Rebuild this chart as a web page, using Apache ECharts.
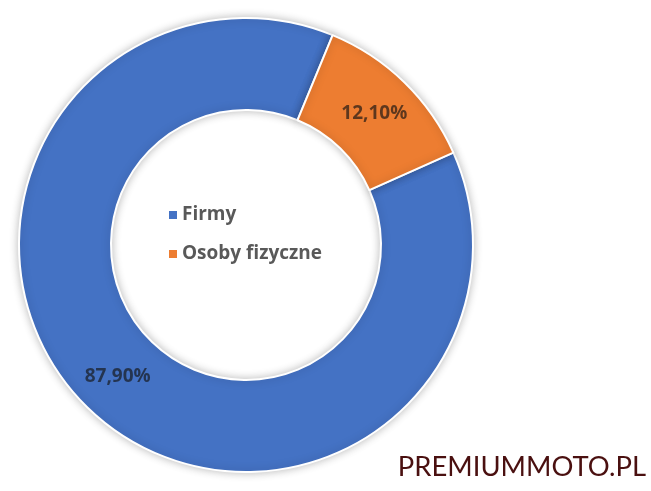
<!DOCTYPE html>
<html>
<head>
<meta charset="utf-8">
<script src="https://cdn.jsdelivr.net/npm/echarts@6/dist/echarts.min.js"></script>
<style>
  html, body { margin: 0; padding: 0; background: #ffffff; }
  #chart { width: 651px; height: 491px; }
</style>
</head>
<body>
<div id="chart"></div>
<script>
const categories = ['Firmy', 'Osoby fizyczne'];
const values = [87.9, 12.1];
const colors = ['#4472C4', '#ED7D31'];
const watermark = 'PREMIUMMOTO.PL';

const chart = echarts.init(document.getElementById('chart'), null, { renderer: 'canvas' });

const fmt = v => v.toFixed(2).replace('.', ',') + '%';

chart.setOption({
  animation: false,
  backgroundColor: '#ffffff',
  color: colors,
  legend: {
    orient: 'vertical',
    left: 162,
    top: 200,
    icon: 'rect',
    itemWidth: 10,
    itemHeight: 10,
    itemGap: 19,
    data: categories,
    textStyle: {
      fontFamily: 'Open Sans',
      fontWeight: 'bold',
      fontSize: 19,
      lineHeight: 20,
      color: '#595959',
      padding: [0, 0, 0, -1]
    }
  },
  series: [{
    type: 'pie',
    center: [246, 245],
    radius: [135, 227],
    startAngle: 24,
    clockwise: true,
    avoidLabelOverlap: false,
    itemStyle: {
      borderColor: '#ffffff',
      borderWidth: 2,
      shadowBlur: 8,
      shadowColor: 'rgba(0,0,0,0.25)'
    },
    label: {
      show: true,
      position: 'inside',
      formatter: p => fmt(p.value),
      fontFamily: 'Open Sans',
      fontWeight: 'bold',
      fontSize: 19,
      color: 'rgba(20,20,20,0.66)'
    },
    labelLine: { show: false },
    emphasis: { disabled: true },
    data: categories.map((c, i) => ({ name: c, value: values[i] }))
  }],
  graphic: [{
    type: 'text',
    right: 5,
    top: 454,
    style: {
      text: watermark,
      fontFamily: 'Lato',
      fontSize: 27.4,
      fill: '#4a1010'
    }
  }]
});
</script>
</body>
</html>
